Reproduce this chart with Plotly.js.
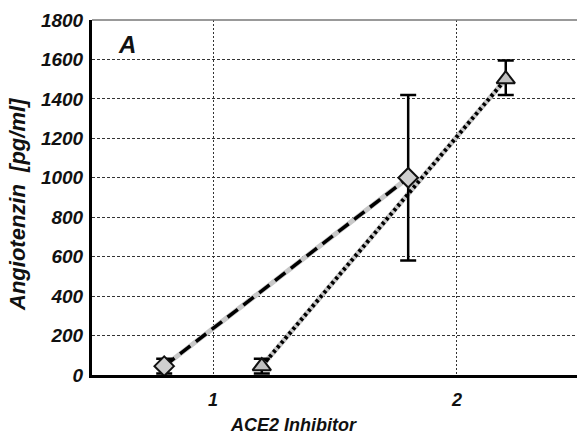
<!DOCTYPE html>
<html><head><meta charset="utf-8">
<script src="https://cdn.plot.ly/plotly-3.0.1.min.js"></script>
<style>body{margin:0;background:#fff}#c{width:577px;height:434px}</style>
</head><body><div id="c"></div>
<script>
const xDiamond = [0.8, 1.8];
const yDiamond = [45, 1000];
const errDiamondPlus = [38, 420];
const errDiamondMinus = [38, 420];
const xTriangle = [1.2, 2.2];
const yTriangle = [45, 1500];
const errTrianglePlus = [38, 95];
const errTriangleMinus = [38, 80];
const xTickVals = [1, 2];
const xTickText = ['1', '2'];
const yTickVals = [0, 200, 400, 600, 800, 1000, 1200, 1400, 1600, 1800];
const yTickText = ['0', '200', '400', '600', '800', '1000', '1200', '1400', '1600', '1800'];

const bi = s => '<b><i>' + s + '</i></b>';
const F = {family: '"Liberation Sans", Arial, sans-serif', color: '#111'};
const gray = '#c8c8c8';
const traces = [
  {x: xDiamond, y: yDiamond, mode: 'lines', line: {color: gray, width: 5}, hoverinfo: 'skip'},
  {x: xDiamond, y: yDiamond, mode: 'lines', line: {color: '#000', width: 3.5, dash: '13px,7px'}, hoverinfo: 'skip'},
  {x: xTriangle, y: yTriangle, mode: 'lines', line: {color: gray, width: 5}, hoverinfo: 'skip'},
  {x: xTriangle, y: yTriangle, mode: 'lines', line: {color: '#000', width: 4, dash: '3px,3px'}, hoverinfo: 'skip'},
  {x: xDiamond, y: yDiamond, mode: 'markers', marker: {symbol: 'diamond', size: 15, color: '#cfcfcf', line: {color: '#111', width: 2}},
   error_y: {type: 'data', array: errDiamondPlus, arrayminus: errDiamondMinus, color: '#000', thickness: 2.5, width: 8}},
  {x: xTriangle, y: yTriangle, mode: 'markers', marker: {symbol: 'triangle-up', size: 16, color: '#c0c0c0', line: {color: '#111', width: 2}},
   error_y: {type: 'data', array: errTrianglePlus, arrayminus: errTriangleMinus, color: '#000', thickness: 2.5, width: 8}}
];
const layout = {
  width: 577, height: 434, showlegend: false,
  paper_bgcolor: '#fff', plot_bgcolor: '#fff',
  margin: {l: 92, r: 0, t: 20, b: 59},
  xaxis: {range: [0.504, 2.492], tickvals: xTickVals, ticktext: xTickText.map(bi), showgrid: true,
    gridcolor: '#333', griddash: '2px,2px', gridwidth: 1, zeroline: false,
    showline: true, linecolor: '#000', linewidth: 3, ticks: '',
    tickfont: Object.assign({size: 18}, F), ticklabelstandoff: 6},
  yaxis: {range: [0, 1800], tickvals: yTickVals, ticktext: yTickText.map(bi), showgrid: true,
    gridcolor: '#333', griddash: '3px,2px', gridwidth: 1, zeroline: false,
    showline: true, linecolor: '#000', linewidth: 3, ticks: '',
    tickfont: Object.assign({size: 19}, F), ticklabelstandoff: 2},
  shapes: [{type: 'line', xref: 'paper', yref: 'paper', x0: 0, x1: 1, y0: 1, y1: 1, line: {color: '#777', width: 1.5}}],
  annotations: [
    {text: bi('A'), xref: 'paper', yref: 'paper', x: (127 - 92) / 485, y: (375 - 44) / 355, xanchor: 'center', yanchor: 'middle', showarrow: false,
     font: Object.assign({size: 24}, F)},
    {text: bi('ACE2 Inhibitor'), xref: 'paper', yref: 'paper', x: (293 - 92) / 485, y: (375 - 425) / 355, xanchor: 'center', yanchor: 'middle', showarrow: false,
     font: Object.assign({size: 18}, F)},
    {text: bi('Angiotenzin  [pg/ml]'), xref: 'paper', yref: 'paper', x: (17 - 92) / 485, y: (375 - 205) / 355, xanchor: 'center', yanchor: 'middle', textangle: -90, showarrow: false,
     font: Object.assign({size: 22}, F)}
  ]
};
Plotly.newPlot('c', traces, layout, {displayModeBar: false, staticPlot: true});
</script></body></html>
